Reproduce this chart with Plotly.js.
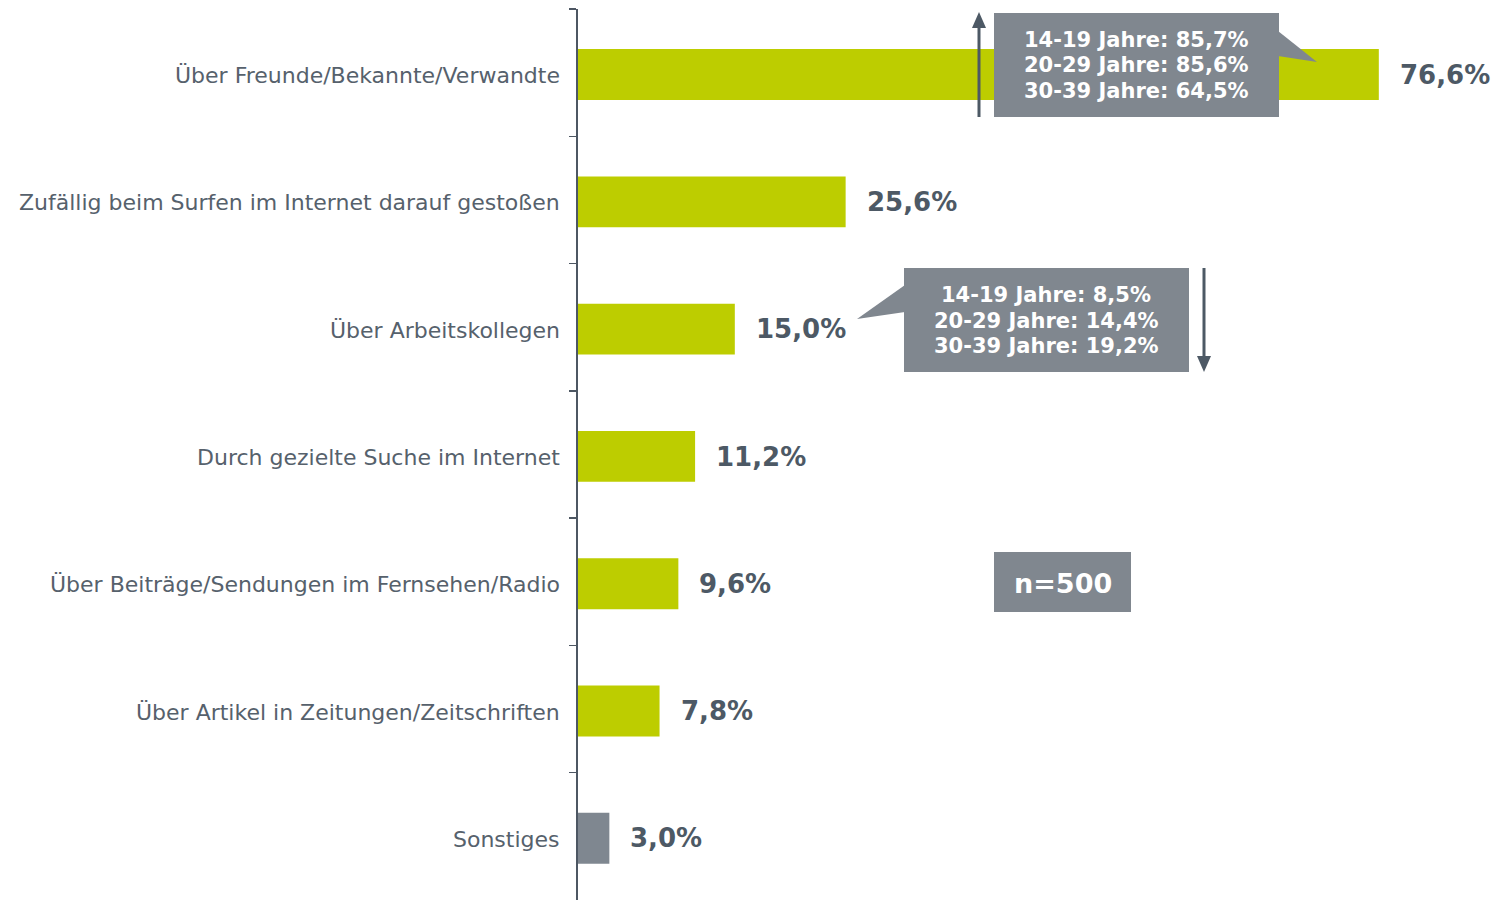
<!DOCTYPE html>
<html><head><meta charset="utf-8">
<script src="https://cdn.plot.ly/plotly-3.0.1.min.js"></script>
<style>html,body{margin:0;padding:0;background:#fff}</style>
</head><body>
<div id="chart" style="width:1501px;height:900px"></div>
<script>
const categories = [
  "Über Freunde/Bekannte/Verwandte",
  "Zufällig beim Surfen im Internet darauf gestoßen",
  "Über Arbeitskollegen",
  "Durch gezielte Suche im Internet",
  "Über Beiträge/Sendungen im Fernsehen/Radio",
  "Über Artikel in Zeitungen/Zeitschriften",
  "Sonstiges"
];
const values = [76.6, 25.6, 15.0, 11.2, 9.6, 7.8, 3.0];
const valueLabels = ["76,6%", "25,6%", "15,0%", "11,2%", "9,6%", "7,8%", "3,0%"];
const barColors = ["#bdcd00","#bdcd00","#bdcd00","#bdcd00","#bdcd00","#bdcd00","#7f8790"];
const callout1Lines = ["14-19 Jahre: 85,7%", "20-29 Jahre: 85,6%", "30-39 Jahre: 64,5%"];
const callout2Lines = ["14-19 Jahre: 8,5%", "20-29 Jahre: 14,4%", "30-39 Jahre: 19,2%"];
const sampleText = "n=500";

const W = 1501, H = 900;
const mL = 578, mR = 3, mT = 9, mB = 0;
const pw = W - mL - mR, ph = H - mT - mB;
const px = x => (x - mL) / pw;
const py = y => 1 - (y - mT) / ph;

const boxColor = "#80878f";
const darkColor = "#4d5965";

function rect(x0, y0, x1, y1, color) {
  return {type:"rect", xref:"paper", yref:"paper", x0:px(x0), x1:px(x1), y0:py(y1), y1:py(y0),
          fillcolor:color, line:{width:0}, layer:"above"};
}
function poly(pts, color) {
  const d = pts.map((p,i)=>(i?"L":"M")+px(p[0])+","+py(p[1])).join(" ")+" Z";
  return {type:"path", xref:"paper", yref:"paper", path:d, fillcolor:color, line:{width:0}, layer:"above"};
}
function vline(x, y0, y1, color) {
  return {type:"line", xref:"paper", yref:"paper", x0:px(x), x1:px(x), y0:py(y0), y1:py(y1),
          line:{color:color, width:3}, layer:"above"};
}

const shapes = [
  rect(994, 13, 1279, 117, boxColor),
  poly([[1278,31],[1317,62],[1278,56]], boxColor),
  vline(979, 117, 26, darkColor),
  poly([[972,28],[979,12],[986,28]], darkColor),
  rect(904, 268, 1189, 372, boxColor),
  poly([[905,285],[857,319],[905,312]], boxColor),
  vline(1204, 268, 358, darkColor),
  poly([[1197,356],[1204,372],[1211,356]], darkColor),
  rect(994, 552, 1131, 612, boxColor)
];

const annFont = "DejaVu Sans, Verdana, sans-serif";
const annotations = values.map((v,i)=>({
  x: v, y: categories[i], xref:"x", yref:"y", text: valueLabels[i],
  showarrow:false, xanchor:"left", yanchor:"middle", xshift:19, yshift:-2,
  font:{family:annFont, size:26, color:darkColor, weight:"bold"}
}));
categories.forEach((c,i)=>annotations.push({
  x: 0, y: c, xref:"x", yref:"y", text: c,
  showarrow:false, xanchor:"right", yanchor:"middle", xshift:-16, yshift:-3,
  font:{family:annFont, size:22, color:"#56616c"}
}));
const c1y = [40, 65, 91], c2y = [295, 321, 346];
callout1Lines.forEach((t,i)=>annotations.push({
  x:px(1136.5), y:py(c1y[i]), xref:"paper", yref:"paper", text:t,
  showarrow:false, xanchor:"center", yanchor:"middle",
  font:{family:annFont, size:21, color:"#ffffff", weight:"bold"}
}));
callout2Lines.forEach((t,i)=>annotations.push({
  x:px(1046), y:py(c2y[i]), xref:"paper", yref:"paper", text:t,
  showarrow:false, xanchor:"center", yanchor:"middle",
  font:{family:annFont, size:21, color:"#ffffff", weight:"bold"}
}));
annotations.push({
  x:px(1062.5), y:py(583), xref:"paper", yref:"paper", text: sampleText,
  showarrow:false, xanchor:"center", yanchor:"middle",
  font:{family:annFont, size:27, color:"#ffffff", weight:"bold"}
});

const trace = {
  type:"bar", orientation:"h", x: values, y: categories,
  marker:{color: barColors, line:{width:0}}, width:0.4, offset:-0.185,
  hoverinfo:"none"
};

const layout = {
  width:W, height:H,
  margin:{l:mL, r:mR, t:mT, b:mB, pad:0},
  paper_bgcolor:"#fff", plot_bgcolor:"#fff",
  showlegend:false,
  xaxis:{range:[0,88], visible:false, fixedrange:true},
  yaxis:{type:"category", autorange:"reversed", tickson:"boundaries",
         ticks:"outside", ticklen:7, tickwidth:1.5, tickcolor:"#4d5763",
         showline:true, linecolor:"#4d5763", linewidth:2, showgrid:false, zeroline:false,
         showticklabels:false, fixedrange:true},
  shapes: shapes,
  annotations: annotations
};

Plotly.newPlot("chart", [trace], layout, {displayModeBar:false, staticPlot:true});
</script>
</body></html>
